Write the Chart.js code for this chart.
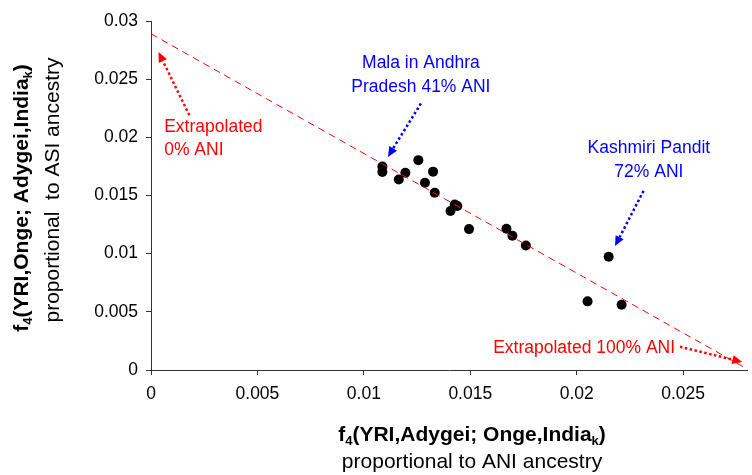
<!DOCTYPE html>
<html>
<head>
<meta charset="utf-8">
<script src="https://cdn.jsdelivr.net/npm/chart.js@4.4.1/dist/chart.umd.min.js"></script>
<style>
html, body { margin: 0; padding: 0; background: #fff; }
</style>
</head>
<body>
<canvas id="f4-chart" width="752" height="475"></canvas>
<script>
//#region Datos
// f4(YRI,Adygei; Onge,India_k) -> eje x
var aniF4 = [0.01087, 0.01087, 0.01256, 0.01195, 0.01164, 0.01325, 0.01287, 0.01333, 0.01427,
             0.01439, 0.01407, 0.01494, 0.01670, 0.01698, 0.01761, 0.02150, 0.02051, 0.02211];
// f4(YRI,Onge; Adygei,India_k) -> eje y
var asiF4 = [0.01749, 0.01703, 0.01804, 0.01695, 0.01637, 0.01705, 0.01609, 0.01524, 0.01423,
             0.01410, 0.01366, 0.01211, 0.01214, 0.01154, 0.01070, 0.00973, 0.00590, 0.00561];
// recta extrapolada
var fitX = [0, 0.028];
var fitY = [0.0289, 0.0001];
var xTicks = [0, 0.005, 0.01, 0.015, 0.02, 0.025];
var yTicks = [0, 0.005, 0.01, 0.015, 0.02, 0.025, 0.03];
//#endregion

var FONT = "'Liberation Sans', Arial, sans-serif";

// notas (posiciones en unidades de datos)
var notes = [
    { lines: ["Extrapolated", "0% ANI"], x: 0.00062, y: [0.02087, 0.01890], align: "left", color: "#ff0000",
      arrow: [0.0018, 0.0219, 0.00035, 0.02734] },
    { lines: ["Mala in Andhra", "Pradesh 41% ANI"], x: 0.01268, y: [0.02634, 0.02428], align: "center", color: "#0000ff",
      arrow: [0.01268, 0.02291, 0.01113, 0.01832] },
    { lines: ["Kashmiri Pandit", "72% ANI"], x: 0.02339, y: [0.01904, 0.01703], align: "center", color: "#0000ff",
      arrow: [0.02314, 0.0154, 0.0218, 0.01065] },
    { lines: ["Extrapolated 100% ANI"], x: 0.02462, y: [0.00186], align: "right", color: "#ff0000",
      arrow: [0.02485, 0.0020, 0.02778, 0.00069] }
];

function drawArrow(ctx, x1, y1, x2, y2, color) {
    var ang = Math.atan2(y2 - y1, x2 - x1);
    var head = 10, half = 4.5;
    ctx.save();
    ctx.strokeStyle = color;
    ctx.fillStyle = color;
    ctx.lineWidth = 2.5;
    ctx.setLineDash([2.5, 2.5]);
    ctx.beginPath();
    ctx.moveTo(x1, y1);
    ctx.lineTo(x2 - Math.cos(ang) * head, y2 - Math.sin(ang) * head);
    ctx.stroke();
    ctx.setLineDash([]);
    ctx.beginPath();
    ctx.moveTo(x2, y2);
    ctx.lineTo(x2 - Math.cos(ang) * head - Math.sin(ang) * half, y2 - Math.sin(ang) * head + Math.cos(ang) * half);
    ctx.lineTo(x2 - Math.cos(ang) * head + Math.sin(ang) * half, y2 - Math.sin(ang) * head - Math.cos(ang) * half);
    ctx.closePath();
    ctx.fill();
    ctx.restore();
}

// texto con subindices, centrado en (0,0) del contexto actual
function drawRich(ctx, parts, size, bold) {
    var w = 0;
    var weight = bold ? "bold " : "";
    parts.forEach(function (p) {
        ctx.font = weight + (p.sub ? size * 0.62 : size) + "px " + FONT;
        p.w = ctx.measureText(p.t).width;
        w += p.w;
    });
    var x = -w / 2;
    ctx.textAlign = "left";
    ctx.textBaseline = "middle";
    parts.forEach(function (p) {
        ctx.font = weight + (p.sub ? size * 0.62 : size) + "px " + FONT;
        ctx.fillText(p.t, x, p.sub ? size * 0.3 : 0);
        x += p.w;
    });
}

var notesPlugin = {
    id: "notes",
    afterDatasetsDraw: function (chart) {
        var ctx = chart.ctx;
        var sx = chart.scales.x, sy = chart.scales.y;
        notes.forEach(function (n) {
            ctx.save();
            ctx.fillStyle = n.color;
            ctx.font = "17.5px " + FONT;
            ctx.textAlign = n.align;
            ctx.textBaseline = "middle";
            n.lines.forEach(function (t, i) {
                ctx.fillText(t, sx.getPixelForValue(n.x), sy.getPixelForValue(n.y[i]));
            });
            ctx.restore();
            var a = n.arrow;
            drawArrow(ctx, sx.getPixelForValue(a[0]), sy.getPixelForValue(a[1]),
                      sx.getPixelForValue(a[2]), sy.getPixelForValue(a[3]), n.color);
        });
    },
    afterDraw: function (chart) {
        var ctx = chart.ctx;
        ctx.save();
        ctx.fillStyle = "#000";
        // titulo eje x
        ctx.save();
        ctx.translate(472, 435);
        drawRich(ctx, [{ t: "f" }, { t: "4", sub: true }, { t: "(YRI,Adygei; Onge,India" }, { t: "k", sub: true }, { t: ")" }], 21, true);
        ctx.restore();
        ctx.save();
        ctx.translate(472, 462);
        drawRich(ctx, [{ t: "proportional to ANI ancestry" }], 21, false);
        ctx.restore();
        // titulo eje y
        ctx.save();
        ctx.translate(22, 198);
        ctx.rotate(-Math.PI / 2);
        drawRich(ctx, [{ t: "f" }, { t: "4", sub: true }, { t: "(YRI,Onge; Adygei,India" }, { t: "k", sub: true }, { t: ")" }], 21, true);
        ctx.restore();
        ctx.save();
        ctx.translate(53, 190);
        ctx.rotate(-Math.PI / 2);
        drawRich(ctx, [{ t: "proportional  to ASI ancestry" }], 21, false);
        ctx.restore();
        ctx.restore();
    }
};

var points = aniF4.map(function (v, i) { return { x: v, y: asiF4[i] }; });
var fitLine = fitX.map(function (v, i) { return { x: v, y: fitY[i] }; });

var ctxF4 = document.querySelector("#f4-chart").getContext("2d");
var f4Chart = new Chart(ctxF4, {
    type: "scatter",
    data: {
        datasets: [{
            type: "line",
            data: fitLine,
            borderColor: "#ff0000",
            borderWidth: 1,
            borderDash: [7, 5],
            pointRadius: 0,
            fill: false,
            order: 0
        }, {
            data: points,
            pointRadius: 5,
            pointHoverRadius: 5,
            backgroundColor: "#000000",
            borderWidth: 0,
            order: 1
        }]
    },
    options: {
        responsive: false,
        animation: false,
        devicePixelRatio: 1,
        layout: { padding: { left: 0, top: 21, right: 0, bottom: 0 } },
        plugins: { legend: { display: false }, tooltip: { enabled: false } },
        scales: {
            x: {
                type: "linear",
                min: 0,
                max: 0.028,
                afterBuildTicks: function (scale) { scale.ticks = xTicks.map(function (v) { return { value: v }; }); },
                afterFit: function (scale) { scale.height = 105; },
                ticks: {
                    color: "#000",
                    font: { family: FONT, size: 17.5 },
                    padding: 9,
                    maxRotation: 0,
                    callback: function (v) { return String(+v.toFixed(3)); }
                },
                grid: { drawOnChartArea: false, drawTicks: true, tickLength: 5, color: "#333" },
                border: { display: true, color: "#333", width: 1 }
            },
            y: {
                min: 0,
                max: 0.03,
                afterBuildTicks: function (scale) { scale.ticks = yTicks.map(function (v) { return { value: v }; }); },
                afterFit: function (scale) { scale.width = 151; },
                ticks: {
                    color: "#000",
                    font: { family: FONT, size: 17.5 },
                    padding: 8,
                    callback: function (v) { return String(+v.toFixed(3)); }
                },
                grid: { drawOnChartArea: false, drawTicks: true, tickLength: 5, color: "#333" },
                border: { display: true, color: "#333", width: 1 }
            }
        }
    },
    plugins: [notesPlugin]
});
</script>
</body>
</html>
